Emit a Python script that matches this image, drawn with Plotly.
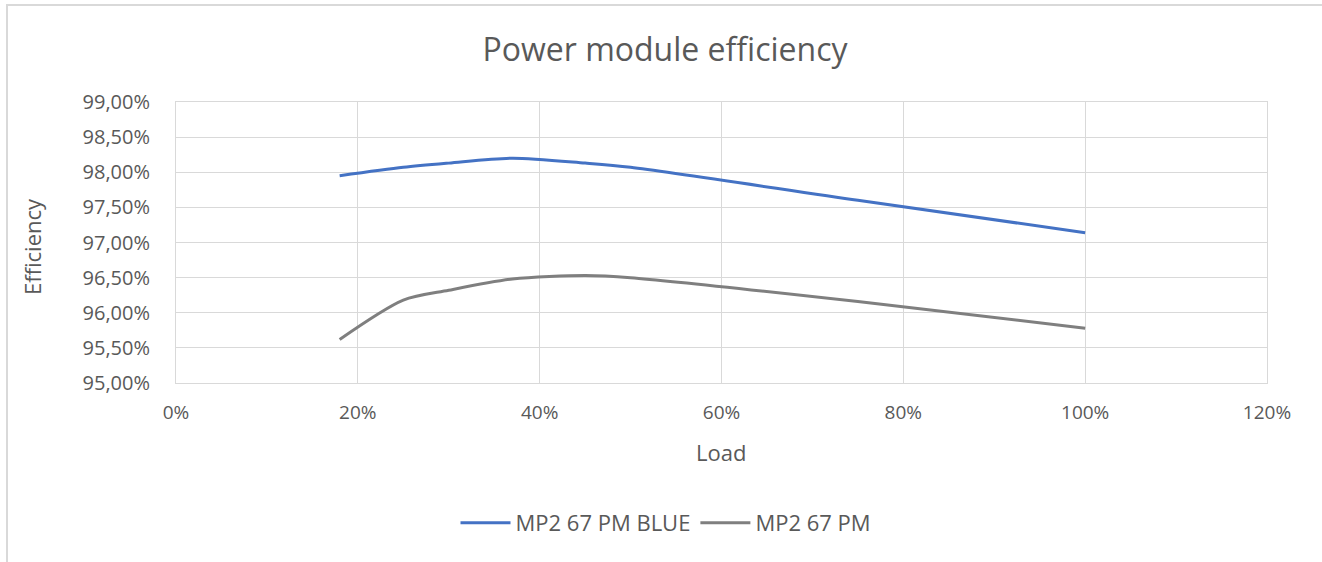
import plotly.graph_objects as go

load = [0.18, 0.25, 0.30, 0.37, 0.45, 0.50, 0.75, 1.00]
blue_eff = [0.9795, 0.9807, 0.9813, 0.9820, 0.9813, 0.9807, 0.9760, 0.9714]
pm_eff = [0.9562, 0.9618, 0.9632, 0.9648, 0.9653, 0.9650, 0.9616, 0.9578]
series_names = ["MP2 67 PM BLUE", "MP2 67 PM"]

FONT = "'Open Sans', Lato, sans-serif"
TXT = "#595959"
GRID = "#d9d9d9"

PL, PT, PW, PH = 176, 102, 1091, 281
W, H = 1322, 562

fig = go.Figure()
fig.add_trace(go.Scatter(x=load, y=blue_eff, mode="lines", name=series_names[0],
                         line=dict(color="#4472C4", width=3, shape="spline", smoothing=0.8)))
fig.add_trace(go.Scatter(x=load, y=pm_eff, mode="lines", name=series_names[1],
                         line=dict(color="#7F7F7F", width=3, shape="spline", smoothing=0.8)))

fig.update_layout(
    width=W, height=H,
    margin=dict(l=PL, r=W - PL - PW, t=PT, b=H - PT - PH),
    paper_bgcolor="white", plot_bgcolor="white",
    separators=",.",
    font=dict(family=FONT, color=TXT, size=19),
    title=dict(text="Power module efficiency", x=665 / W, xref="container",
               y=1 - 50 / H, yref="container", xanchor="center", yanchor="middle",
               font=dict(size=32, color=TXT, family=FONT)),
    showlegend=True,
    legend=dict(orientation="h", xref="container", yref="container",
                x=666 / W, y=1 - 523 / H,
                xanchor="center", yanchor="middle", font=dict(size=22, color=TXT),
                itemwidth=50),
    xaxis=dict(range=[0, 1.2], dtick=0.2, tick0=0, tickformat=".0%", showgrid=True,
               gridcolor=GRID, gridwidth=1, showline=True, linecolor=GRID, linewidth=1,
               mirror=True, zeroline=False, ticks="", ticklabelstandoff=12,
               tickfont=dict(size=19, color=TXT)),
    yaxis=dict(range=[0.95, 0.99], dtick=0.005, tick0=0.95, tickformat=".2%", showgrid=True,
               gridcolor=GRID, gridwidth=1, showline=True, linecolor=GRID, linewidth=1,
               mirror=True, zeroline=False, ticks="", ticklabelstandoff=21,
               tickfont=dict(size=20, color=TXT)),
    annotations=[
        dict(text="Load", xref="paper", yref="paper", x=(721 - 176) / PW, y=(383 - 452) / PH,
             showarrow=False, font=dict(size=22, color=TXT), xanchor="center", yanchor="middle"),
        dict(text="Efficiency", xref="paper", yref="paper", x=(32 - 176) / PW, y=(383 - 247) / PH,
             showarrow=False, textangle=-90, font=dict(size=22, color=TXT),
             xanchor="center", yanchor="middle"),
    ],
    shapes=[
        dict(type="rect", xref="paper", yref="paper", x0=(7 - 176) / PW, x1=(1330 - 176) / PW,
             y0=(383 - 580) / PH, y1=(383 - 5) / PH, line=dict(color=GRID, width=2),
             fillcolor="rgba(0,0,0,0)", layer="below"),
    ],
)

fig.write_html("out.html", post_script="document.body.style.margin='0';",
               config={"displayModeBar": False})
